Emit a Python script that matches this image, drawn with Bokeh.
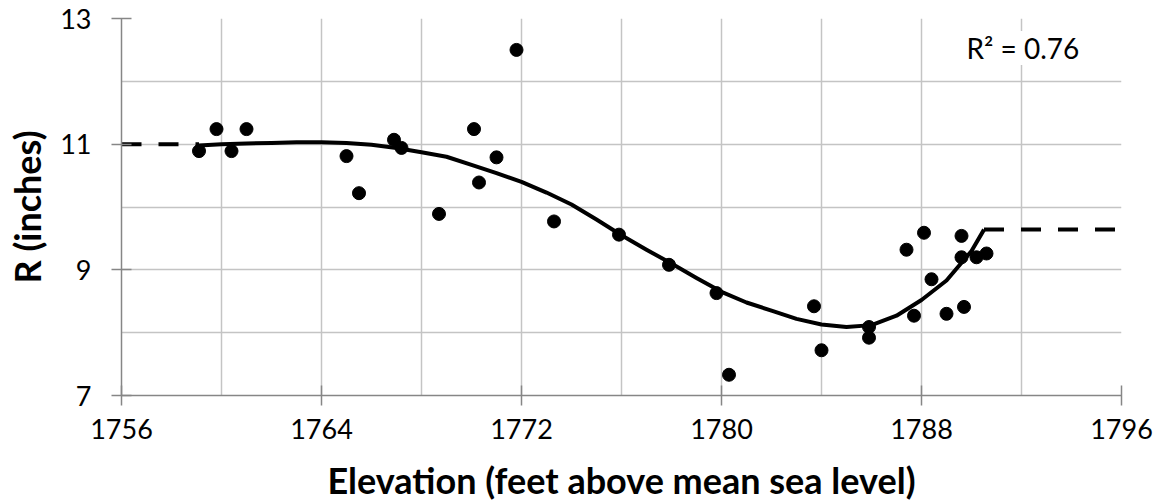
from bokeh.plotting import figure
from bokeh.models import FixedTicker, Label, Range1d
from bokeh.embed import file_html
from bokeh.resources import INLINE

# Observed data points
elevation = [1759.1, 1759.8, 1760.4, 1761.0, 1765.0, 1765.5, 1766.9, 1767.2, 1768.7,
             1770.1, 1770.3, 1771.0, 1771.8, 1773.3, 1775.9, 1777.9, 1779.8, 1780.3,
             1783.7, 1784.0, 1785.9, 1785.9, 1787.4, 1787.7, 1788.1, 1788.4, 1789.0,
             1789.6, 1789.6, 1789.7, 1790.2, 1790.6]
r_inches = [10.89, 11.24, 10.89, 11.24, 10.81, 10.22, 11.07, 10.94, 9.89,
            11.24, 10.39, 10.79, 12.50, 9.77, 9.56, 9.08, 8.63, 7.33,
            8.42, 7.72, 8.09, 7.92, 9.32, 8.27, 9.59, 8.85, 8.30,
            9.54, 9.20, 8.41, 9.20, 9.26]

# Fitted trend curve
fit_x = [1759.1, 1760.0, 1761.0, 1762.0, 1763.0, 1764.0, 1765.0, 1766.0, 1767.0, 1768.0,
         1769.0, 1770.0, 1771.0, 1772.0, 1773.0, 1774.0, 1775.0, 1776.0, 1777.0, 1778.0,
         1779.0, 1780.0, 1781.0, 1782.0, 1783.0, 1784.0, 1785.0, 1786.0, 1787.0, 1788.0,
         1789.0, 1790.0, 1790.5]
fit_y = [10.98, 11.00, 11.01, 11.02, 11.03, 11.03, 11.02, 10.99, 10.94, 10.87,
         10.80, 10.67, 10.54, 10.40, 10.23, 10.04, 9.80, 9.55, 9.32, 9.10,
         8.87, 8.65, 8.48, 8.35, 8.22, 8.13, 8.09, 8.12, 8.27, 8.52,
         8.83, 9.30, 9.64]

# Dashed extensions
left_ext_x = [1756, 1759.1]
left_ext_y = [11.0, 11.0]
right_ext_x = [1790.5, 1796]
right_ext_y = [9.64, 9.64]

x_ticks = [1756, 1764, 1772, 1780, 1788, 1796]
y_ticks = [7, 9, 11, 13]
x_grid = [1756, 1760, 1764, 1768, 1772, 1776, 1780, 1784, 1788, 1792, 1796]
y_grid = [7, 8, 9, 10, 11, 12, 13]
r2_text = "R² = 0.76"
x_title = "Elevation (feet above mean sea level)"
y_title = "R (inches)"

FONT = "Lato"

p = figure(width=1161, height=504, x_range=Range1d(1756, 1796), y_range=Range1d(7, 13),
           output_backend="svg", toolbar_location=None,
           min_border_left=121, min_border_right=40, min_border_top=18, min_border_bottom=109)
p.outline_line_color = None
p.background_fill_color = "white"
p.border_fill_color = "white"

p.xgrid.ticker = FixedTicker(ticks=x_grid)
p.ygrid.ticker = FixedTicker(ticks=y_grid)
for g in (p.xgrid, p.ygrid):
    g.grid_line_color = "#c4c4c4"
    g.grid_line_width = 1.5

p.xaxis.ticker = FixedTicker(ticks=x_ticks)
p.yaxis.ticker = FixedTicker(ticks=y_ticks)
for ax in (p.xaxis, p.yaxis):
    ax.axis_line_color = "#868686"
    ax.axis_line_width = 1.5
    ax.major_tick_line_color = "#868686"
    ax.major_tick_line_width = 1.5
    ax.major_tick_in = 10
    ax.major_tick_out = 10
    ax.minor_tick_line_color = None
    ax.major_label_text_font = FONT
    ax.major_label_text_font_size = "27px"
    ax.major_label_text_color = "black"
    ax.axis_label_text_font = FONT
    ax.axis_label_text_font_style = "bold"
    ax.axis_label_text_font_size = "36px"
    ax.axis_label_text_color = "black"

p.xaxis.axis_label = x_title
p.yaxis.axis_label = y_title
p.xaxis.major_label_standoff = 13
p.xaxis.axis_label_standoff = 16
p.yaxis.major_label_standoff = 20
p.yaxis.axis_label_standoff = 8

p.line(left_ext_x, left_ext_y, line_color="black", line_width=4, line_dash="20 17")
p.line(right_ext_x, right_ext_y, line_color="black", line_width=4, line_dash="20 17")
p.line(fit_x, fit_y, line_color="black", line_width=4, line_join="round")
p.scatter(elevation, r_inches, size=13, fill_color="black", line_color="black")

lab = Label(x=1789.8, y=12.53, text=r2_text, text_font=FONT, text_font_size="28px",
            text_baseline="middle", text_align="left", text_color="black",
            background_fill_color="white", background_fill_alpha=1.0)
p.add_layout(lab)

open("out.html", "w").write(file_html(p, INLINE))
